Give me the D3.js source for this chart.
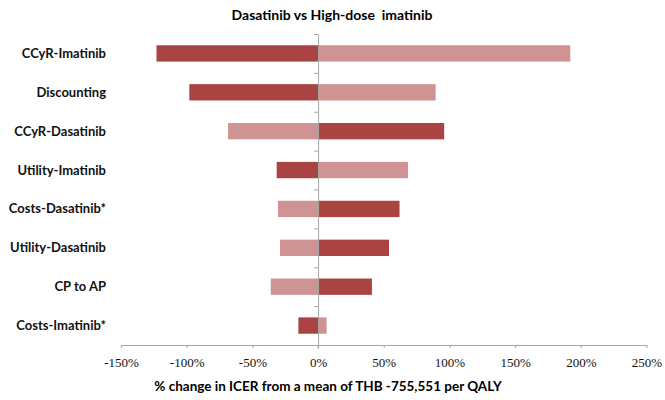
<!DOCTYPE html>
<html>
<head>
<meta charset="utf-8">
<script src="https://cdn.jsdelivr.net/npm/d3@7"></script>
<style>
  body { margin: 0; background: #fff; }
  svg { display: block; }
</style>
</head>
<body>
<svg id="chart"></svg>
<script>
const categories = ['CCyR-Imatinib', 'Discounting', 'CCyR-Dasatinib', 'Utility-Imatinib',
  'Costs-Dasatinib*', 'Utility-Dasatinib', 'CP to AP', 'Costs-Imatinib*'];
// dark red series and light red series (% change in ICER)
const darkValues = [-123, -98, 96, -31.5, 62, 54, 41, -15];
const lightValues = [192, 89.5, -68.5, 68.5, -30.5, -29, -36, 6.5];
const xTicks = [-150, -100, -50, 0, 50, 100, 150, 200, 250];

const W = 665, H = 400;
const svg = d3.select('#chart')
  .attr('width', W)
  .attr('height', H);

const x = d3.scaleLinear()
  .domain([-150, 250])
  .range([121, 646.5]);

const y = d3.scaleBand()
  .domain(categories)
  .range([34, 345])
  .paddingInner(0.58)
  .paddingOuter(0.29);

const barX = v => Math.min(x(0), x(v));
const barW = v => Math.abs(x(v) - x(0));

// light bars
svg.append('g')
  .selectAll('rect')
  .data(categories)
  .enter()
  .append('rect')
  .attr('x', (d, i) => barX(lightValues[i]))
  .attr('y', d => y(d))
  .attr('width', (d, i) => barW(lightValues[i]))
  .attr('height', y.bandwidth())
  .attr('fill', '#d09393');

// dark bars
svg.append('g')
  .selectAll('rect')
  .data(categories)
  .enter()
  .append('rect')
  .attr('x', (d, i) => barX(darkValues[i]))
  .attr('y', d => y(d))
  .attr('width', (d, i) => barW(darkValues[i]))
  .attr('height', y.bandwidth())
  .attr('fill', '#a94442');

// x axis
const xAxis = svg.append('g')
  .attr('transform', 'translate(0, 345)')
  .call(d3.axisBottom(x)
    .tickValues(xTicks)
    .tickSize(3)
    .tickSizeOuter(0)
    .tickPadding(10)
    .tickFormat(d => d + '%'));
xAxis.select('.domain').attr('stroke', '#a6a6a6');
xAxis.selectAll('line').attr('stroke', '#a6a6a6');
xAxis.selectAll('text')
  .style('font-family', '"Liberation Serif", serif')
  .style('font-size', '13px')
  .attr('fill', '#111');

// y axis at zero, ticks between categories
const yEdges = d3.scaleLinear().domain([0, categories.length]).range([34, 345]);
const yAxis = svg.append('g')
  .attr('transform', `translate(${x(0)}, 0)`)
  .call(d3.axisLeft(yEdges)
    .tickValues(d3.range(categories.length + 1))
    .tickSize(4)
    .tickSizeOuter(0)
    .tickFormat(''));
yAxis.select('.domain').attr('stroke', '#a6a6a6');
yAxis.selectAll('line').attr('stroke', '#a6a6a6');
yAxis.append('line')
  .attr('x1', 0).attr('x2', 0)
  .attr('y1', 345).attr('y2', 349)
  .attr('stroke', '#a6a6a6');

// category labels
svg.append('g')
  .selectAll('text')
  .data(categories)
  .enter()
  .append('text')
  .attr('x', 106)
  .attr('y', d => y(d) + y.bandwidth() / 2)
  .attr('dy', '0.35em')
  .attr('text-anchor', 'end')
  .style('font-family', 'Lato, sans-serif')
  .style('font-weight', 'bold')
  .style('font-size', '13px')
  .attr('fill', '#111')
  .text(d => d);

svg.append('text')
  .attr('x', 332)
  .attr('y', 20)
  .attr('text-anchor', 'middle')
  .style('font-family', 'Lato, sans-serif')
  .style('font-weight', 'bold')
  .style('font-size', '14px')
  .style('white-space', 'pre')
  .attr('fill', '#000')
  .text('Dasatinib vs High-dose  imatinib');

svg.append('text')
  .attr('x', 328)
  .attr('y', 391)
  .attr('text-anchor', 'middle')
  .style('font-family', 'Lato, sans-serif')
  .style('font-weight', 'bold')
  .style('font-size', '13.5px')
  .attr('fill', '#000')
  .text('% change in ICER from a mean of THB -755,551 per QALY');
</script>
</body>
</html>
